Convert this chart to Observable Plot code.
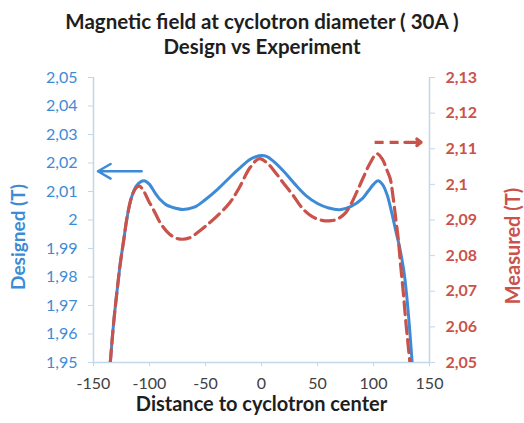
<!DOCTYPE html>
<html>
<head>
<meta charset="utf-8">
<script src="https://cdn.jsdelivr.net/npm/d3@7"></script>
<script src="https://cdn.jsdelivr.net/npm/@observablehq/plot@0.6"></script>
<style>
  html, body { margin: 0; padding: 0; background: #fff; }
  #title { width: 524px; height: 60px; box-sizing: border-box; padding-top: 9px;
           font-family: Lato, sans-serif; font-weight: bold; font-size: 20.5px; line-height: 25px;
           color: #1e1e1e; text-align: center; }
</style>
</head>
<body>
<div id="title"></div>
<div id="chart"></div>
<script>
const titleLines = ["Magnetic field at cyclotron diameter ( 30A )", "Design vs Experiment"];
const xLabel = "Distance to cyclotron center";
const leftLabel = "Designed (T)";
const rightLabel = "Measured (T)";

const xTicks = [-150, -100, -50, 0, 50, 100, 150];
const leftTicks = [1.95, 1.96, 1.97, 1.98, 1.99, 2.00, 2.01, 2.02, 2.03, 2.04, 2.05];
const rightTicks = [2.05, 2.06, 2.07, 2.08, 2.09, 2.10, 2.11, 2.12, 2.13];

// Designed field (left axis)
const designX = [-135,-132,-129,-126,-123,-120,-116,-112,-108,-104,-100,-95,-90,-85,-80,-70,-60,-50,-40,-30,-20,-10,-5,0,5,10,20,30,40,50,60,70,80,90,95,100,104,108,112,116,120,123,125,127.5,130,132,134.5];
const designY = [1.950,1.964,1.975,1.985,1.993,2.001,2.008,2.0118,2.0134,2.0137,2.0125,2.0095,2.007,2.0053,2.0045,2.0037,2.0045,2.0072,2.0105,2.0143,2.018,2.0213,2.0222,2.0226,2.0222,2.0208,2.017,2.0125,2.0085,2.0058,2.0042,2.0036,2.0048,2.0075,2.0100,2.0125,2.0138,2.0125,2.009,2.003,1.996,1.991,1.987,1.981,1.972,1.963,1.950];

// Measured field (right axis)
const measX = [-135,-132,-129,-126,-123,-120,-116,-112,-109,-105,-101,-95,-90,-82,-74,-64,-55,-49,-40,-28,-20,-10,-2,5,12,19,28,37,45,54,62,68,75,80,86,91,97,103,108,112,115,117.5,120,122,124,126.5,129,132.5];
const measY = [2.050,2.0612,2.070,2.078,2.0844,2.0908,2.0964,2.0990,2.0995,2.098,2.0955,2.092,2.089,2.086,2.0847,2.085,2.087,2.0885,2.091,2.095,2.099,2.1048,2.1072,2.106,2.1035,2.1006,2.097,2.0931,2.091,2.0899,2.0898,2.0903,2.092,2.0945,2.0985,2.102,2.106,2.1086,2.107,2.104,2.1015,2.0964,2.090,2.085,2.078,2.070,2.061,2.050];

// annotation arrows
const blueArrow = {x1: -107, x2: -146, y: 2.0171};
const redArrowDash = {x1: 101, x2: 124, y: 2.1118};
const redArrowHead = {x1: 128, x2: 142.5, y: 2.1118};

const blue = "#3d8bd6";
const red = "#c9534b";
const axisColor = "#c3d7ea";

document.getElementById("title").innerHTML = titleLines.join("<br>");

const toLeft = d3.scaleLinear().domain([2.05, 2.13]).range([1.95, 2.05]);
const fmt = v => String(Math.round(v * 100) / 100).replace(".", ",");

const design = designX.map((x, i) => ({x, y: designY[i]}));
const measured = measX.map((x, i) => ({x, y: toLeft(measY[i])}));

const plot = Plot.plot({
  width: 524,
  height: 363,
  marginTop: 17,
  marginBottom: 61,
  marginLeft: 93,
  marginRight: 95,
  style: {fontFamily: "Lato, sans-serif", fontSize: "16px", background: "#fff"},
  x: {domain: [-150, 150]},
  y: {domain: [1.95, 2.05]},
  marks: [
    Plot.ruleX([-150], {stroke: axisColor, strokeWidth: 1.5}),
    Plot.ruleX([150], {stroke: axisColor, strokeWidth: 1.5}),
    Plot.ruleY([1.95], {stroke: axisColor, strokeWidth: 1.5}),
    Plot.axisX({ticks: xTicks, tickFormat: d => String(d), tickSize: 4, tickPadding: 11,
                stroke: axisColor, color: "#404040", label: null}),
    Plot.axisY({ticks: leftTicks, tickFormat: fmt, tickSize: 5, tickPadding: 11,
                stroke: axisColor, color: blue, label: null}),
    Plot.axisY({anchor: "right", ticks: rightTicks.map(toLeft), tickFormat: v => fmt(toLeft.invert(v)),
                tickSize: 5, tickPadding: 11, stroke: axisColor, color: red, label: null, fontWeight: "bold"}),
    Plot.line(design, {x: "x", y: "y", stroke: blue, strokeWidth: 3, curve: "catmull-rom", clip: true}),
    Plot.line(measured, {x: "x", y: "y", stroke: red, strokeWidth: 3.2, strokeDasharray: "13,6", curve: "catmull-rom", clip: true}),
    Plot.arrow([blueArrow], {x1: "x1", x2: "x2", y1: "y", y2: "y", stroke: blue, strokeWidth: 2.5, headLength: 11}),
    Plot.link([redArrowDash].map(d => ({...d, y: toLeft(d.y)})), {x1: "x1", x2: "x2", y1: "y", y2: "y", stroke: red, strokeWidth: 3.2, strokeDasharray: "9,6"}),
    Plot.arrow([redArrowHead].map(d => ({...d, y: toLeft(d.y)})), {x1: "x1", x2: "x2", y1: "y", y2: "y", stroke: red, strokeWidth: 3.2, headLength: 10, headAngle: 75}),
    Plot.text([xLabel], {frameAnchor: "bottom", dy: 48, fontWeight: "bold", fontSize: 20, fill: "#1e1e1e", text: d => d}),
    Plot.text([leftLabel], {frameAnchor: "left", dx: -75, dy: 17, rotate: -90, textAnchor: "middle", lineAnchor: "middle", fontWeight: "bold", fontSize: 19, fill: blue, text: d => d}),
    Plot.text([rightLabel], {frameAnchor: "right", dx: 84, dy: 26, rotate: -90, textAnchor: "middle", lineAnchor: "middle", fontWeight: "bold", fontSize: 20, fill: red, text: d => d})
  ]
});
document.getElementById("chart").appendChild(plot);
</script>
</body>
</html>
